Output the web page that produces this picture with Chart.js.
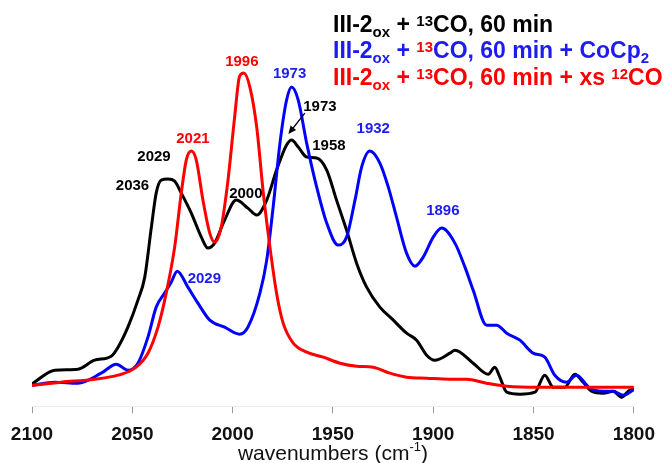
<!DOCTYPE html>
<html>
<head>
<meta charset="utf-8">
<script src="https://cdn.jsdelivr.net/npm/chart.js@4.4.1/dist/chart.umd.min.js"></script>
<style>
  html, body { margin: 0; padding: 0; background: #fff; }
  canvas { display: block; }
</style>
</head>
<body>
<canvas id="ir" width="665" height="463"></canvas>
<script>
// IR spectra, carbonyl region (absorbance, arbitrary units)
const xTicks = [2100, 2050, 2000, 1950, 1900, 1850, 1800];

// III-2ox + 13CO, 60 min
const blackWn = [2099.5, 2088.7, 2077.1, 2068.8, 2060.5, 2057.1, 2052.2, 2047.2, 2043.8, 2040.5,
  2038.1, 2035.6, 2032.2, 2028.9, 2025.6, 2020.6, 2015.6, 2012.3, 2009.0, 2004.0,
  1998.2, 1992.4, 1988.0, 1983.0, 1978.1, 1973.1, 1970.6, 1967.3, 1963.1, 1958.1,
  1953.1, 1948.2, 1943.2, 1938.2, 1933.2, 1926.6, 1919.9, 1913.3, 1908.3, 1903.3,
  1899.2, 1891.7, 1889.2, 1880.1, 1872.6, 1869.3, 1866.8, 1863.4, 1856.8, 1849.3,
  1844.4, 1840.2, 1834.4, 1829.4, 1825.3, 1821.1, 1815.3, 1810.3, 1806.1, 1802.8, 1800.4];
const blackAbs = [0.023, 0.036, 0.037, 0.046, 0.050, 0.059, 0.079, 0.106, 0.129, 0.179,
  0.213, 0.226, 0.227, 0.225, 0.213, 0.193, 0.169, 0.158, 0.163, 0.186,
  0.206, 0.198, 0.191, 0.206, 0.236, 0.261, 0.266, 0.259, 0.249, 0.248,
  0.236, 0.206, 0.176, 0.143, 0.119, 0.099, 0.086, 0.073, 0.066, 0.051,
  0.046, 0.053, 0.056, 0.043, 0.032, 0.039, 0.029, 0.014, 0.012, 0.014,
  0.031, 0.019, 0.019, 0.032, 0.024, 0.015, 0.013, 0.015, 0.009, 0.015, 0.017];

// III-2ox + 13CO, 60 min + CoCp2
const blueWn = [2099.5, 2088.7, 2077.1, 2065.5, 2058.0, 2052.2, 2047.2, 2042.2, 2038.1, 2033.9,
  2030.6, 2027.6, 2022.3, 2017.3, 2011.4, 2004.0, 1996.5, 1992.4, 1986.4, 1983.0,
  1979.8, 1976.4, 1973.1, 1970.6, 1967.3, 1963.1, 1958.1, 1953.1, 1947.4, 1943.2,
  1939.0, 1935.7, 1931.6, 1926.6, 1922.4, 1918.3, 1913.3, 1909.1, 1905.0, 1900.0,
  1895.8, 1889.2, 1884.2, 1880.1, 1873.4, 1868.4, 1863.4, 1856.8, 1850.2, 1844.4,
  1839.4, 1833.6, 1828.6, 1822.0, 1815.3, 1810.3, 1805.3, 1800.4];
const blueAbs = [0.021, 0.024, 0.023, 0.033, 0.042, 0.036, 0.043, 0.069, 0.099, 0.113,
  0.124, 0.135, 0.119, 0.103, 0.086, 0.079, 0.072, 0.079, 0.113, 0.146,
  0.199, 0.263, 0.306, 0.319, 0.306, 0.263, 0.219, 0.183, 0.161, 0.169,
  0.206, 0.239, 0.255, 0.243, 0.219, 0.189, 0.153, 0.140, 0.149, 0.169,
  0.178, 0.163, 0.139, 0.116, 0.081, 0.081, 0.073, 0.066, 0.053, 0.049,
  0.031, 0.024, 0.031, 0.018, 0.015, 0.015, 0.011, 0.016];

// III-2ox + 13CO, 60 min + xs 12CO
const redWn = [2099.5, 2085.4, 2068.8, 2057.1, 2048.8, 2042.2, 2037.2, 2033.1, 2028.9, 2025.6,
  2023.1, 2020.6, 2018.1, 2014.8, 2011.4, 2009.0, 2005.7, 2002.3, 1999.0, 1996.5,
  1994.4, 1991.4, 1988.0, 1984.7, 1981.4, 1978.1, 1974.8, 1969.8, 1963.1, 1954.8,
  1946.5, 1938.2, 1929.9, 1921.6, 1913.3, 1903.3, 1891.7, 1883.4, 1873.4, 1863.4,
  1846.8, 1830.2, 1813.6, 1800.4];
const redAbs = [0.021, 0.024, 0.027, 0.031, 0.038, 0.053, 0.079, 0.113, 0.159, 0.213,
  0.246, 0.255, 0.246, 0.206, 0.173, 0.164, 0.179, 0.226, 0.289, 0.330,
  0.333, 0.319, 0.279, 0.213, 0.159, 0.113, 0.083, 0.063, 0.054, 0.049,
  0.043, 0.040, 0.039, 0.033, 0.029, 0.028, 0.027, 0.027, 0.023, 0.020,
  0.019, 0.019, 0.019, 0.019];

const BLACK = '#000000', BLUE = '#0000ff', RED = '#ff0000';
const BLUE_TEXT = '#1c1cf0';
const FONT = "'Liberation Sans', Arial, Helvetica, sans-serif";

// peak position labels, anchored in data space (wavenumber, absorbance at text baseline)
const peakLabels = [
  { text: '1996', color: RED,       wn: 1995.4, abs: 0.340 },
  { text: '2021', color: RED,       wn: 2019.8, abs: 0.263 },
  { text: '1973', color: BLUE_TEXT, wn: 1971.6, abs: 0.328 },
  { text: '1932', color: BLUE_TEXT, wn: 1929.9, abs: 0.273 },
  { text: '1896', color: BLUE_TEXT, wn: 1895.2, abs: 0.191 },
  { text: '2029', color: BLUE_TEXT, wn: 2014.1, abs: 0.123 },
  { text: '1973', color: BLACK,     wn: 1956.5, abs: 0.295 },
  { text: '1958', color: BLACK,     wn: 1952.0, abs: 0.256 },
  { text: '2029', color: BLACK,     wn: 2039.2, abs: 0.245 },
  { text: '2036', color: BLACK,     wn: 2049.9, abs: 0.216 },
  { text: '2000', color: BLACK,     wn: 1993.4, abs: 0.208 }
];
// arrow from the black 1973 label down to its peak
const arrowTail = { wn: 1964.0, abs: 0.293 };
const arrowHead = { wn: 1972.2, abs: 0.272 };

// legend lines: rich text segments (sub / sup)
const legendLines = [
  { color: BLACK, segs: [{ t: 'III-2' }, { t: 'ox', sub: true }, { t: ' + ' }, { t: '13', sup: true }, { t: 'CO, 60 min' }] },
  { color: BLUE_TEXT, segs: [{ t: 'III-2' }, { t: 'ox', sub: true }, { t: ' + ' }, { t: '13', sup: true, color: RED },
      { t: 'CO, 60 min + CoCp' }, { t: '2', sub: true }] },
  { color: RED, segs: [{ t: 'III-2' }, { t: 'ox', sub: true }, { t: ' + ' }, { t: '13', sup: true },
      { t: 'CO, 60 min + xs ' }, { t: '12', sup: true }, { t: 'CO' }] }
];

function pairs(xs, ys) { return xs.map((v, i) => ({ x: v, y: ys[i] })); }

function drawRich(ctx, x, yBase, segs, baseColor, bigSize, smallSize, weight, subDy, supDy) {
  let cx = x;
  ctx.textAlign = 'left';
  ctx.textBaseline = 'alphabetic';
  segs.forEach(s => {
    const small = s.sub || s.sup;
    ctx.font = `${weight} ${small ? smallSize : bigSize}px ${FONT}`;
    ctx.fillStyle = s.color || baseColor;
    const dy = s.sub ? subDy : (s.sup ? supDy : 0);
    ctx.fillText(s.t, cx, yBase + dy);
    cx += ctx.measureText(s.t).width;
  });
}

function richWidth(ctx, segs, bigSize, smallSize, weight) {
  let w = 0;
  segs.forEach(s => {
    ctx.font = `${weight} ${(s.sub || s.sup) ? smallSize : bigSize}px ${FONT}`;
    w += ctx.measureText(s.t).width;
  });
  return w;
}

const overlay = {
  id: 'overlay',
  afterDraw(chart) {
    const { ctx, scales: { x, y } } = chart;
    ctx.save();

    // peak labels
    ctx.font = `bold 15px ${FONT}`;
    ctx.textAlign = 'center';
    ctx.textBaseline = 'alphabetic';
    peakLabels.forEach(p => {
      ctx.fillStyle = p.color;
      ctx.fillText(p.text, x.getPixelForValue(p.wn), y.getPixelForValue(p.abs));
    });

    // arrow
    const x0 = x.getPixelForValue(arrowTail.wn), y0 = y.getPixelForValue(arrowTail.abs);
    const x1 = x.getPixelForValue(arrowHead.wn), y1 = y.getPixelForValue(arrowHead.abs);
    const ang = Math.atan2(y1 - y0, x1 - x0);
    const hl = 8, hw = 3.5;
    ctx.strokeStyle = BLACK;
    ctx.fillStyle = BLACK;
    ctx.lineWidth = 1.3;
    ctx.beginPath();
    ctx.moveTo(x0, y0);
    ctx.lineTo(x1 - Math.cos(ang) * hl * 0.8, y1 - Math.sin(ang) * hl * 0.8);
    ctx.stroke();
    ctx.beginPath();
    ctx.moveTo(x1, y1);
    ctx.lineTo(x1 - Math.cos(ang) * hl - Math.sin(ang) * hw, y1 - Math.sin(ang) * hl + Math.cos(ang) * hw);
    ctx.lineTo(x1 - Math.cos(ang) * hl + Math.sin(ang) * hw, y1 - Math.sin(ang) * hl - Math.cos(ang) * hw);
    ctx.closePath();
    ctx.fill();

    // legend block, top right
    const lx = 333;
    const lineY = [31.5, 58.2, 85];
    legendLines.forEach((ln, i) => drawRich(ctx, lx, lineY[i], ln.segs, ln.color, 23, 15, 'bold', 5, -6));

    // x axis title
    const titleSegs = [{ t: 'wavenumbers (cm' }, { t: '-1', sup: true }, { t: ')' }];
    const tw = richWidth(ctx, titleSegs, 21, 13, 'normal');
    const cxp = (chart.chartArea.left + chart.chartArea.right) / 2;
    drawRich(ctx, cxp - tw / 2, 460, titleSegs, '#111', 21, 13, 'normal', 4, -9);

    ctx.restore();
  }
};

const lineStyle = {
  borderWidth: 3,
  pointRadius: 0,
  fill: false,
  cubicInterpolationMode: 'monotone',
  borderJoinStyle: 'round',
  borderCapStyle: 'round'
};

new Chart(document.getElementById('ir'), {
  type: 'line',
  data: {
    datasets: [
      Object.assign({ label: 'III-2ox + 13CO, 60 min + xs 12CO', data: pairs(redWn, redAbs), borderColor: RED }, lineStyle),
      Object.assign({ label: 'III-2ox + 13CO, 60 min + CoCp2', data: pairs(blueWn, blueAbs), borderColor: BLUE }, lineStyle),
      Object.assign({ label: 'III-2ox + 13CO, 60 min', data: pairs(blackWn, blackAbs), borderColor: BLACK }, lineStyle)
    ]
  },
  options: {
    responsive: false,
    animation: false,
    devicePixelRatio: 1,
    parsing: false,
    layout: { padding: { left: 32, right: 31, top: 6, bottom: 7 } },
    plugins: { legend: { display: false }, tooltip: { enabled: false } },
    scales: {
      x: {
        type: 'linear',
        reverse: true,
        min: 1800,
        max: 2100,
        afterBuildTicks: axis => { axis.ticks = xTicks.map(v => ({ value: v })); },
        grid: { drawOnChartArea: false, drawTicks: true, tickLength: 7, color: '#9a9a9a', lineWidth: 1 },
        border: { display: true, color: '#ebebeb', width: 1 },
        ticks: {
          padding: 10,
          color: '#111',
          autoSkip: false,
          maxRotation: 0,
          callback: v => String(v),
          font: { family: FONT, size: 19, weight: 'bold' }
        }
      },
      y: { display: false, min: 0, max: 0.4 }
    }
  },
  plugins: [overlay]
});
</script>
</body>
</html>
